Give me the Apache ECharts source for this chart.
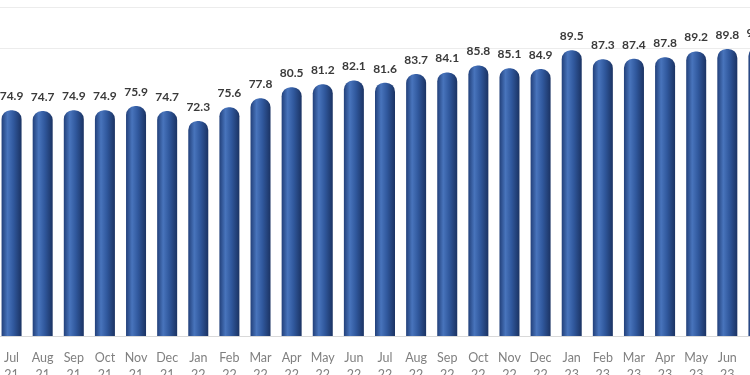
<!DOCTYPE html>
<html>
<head>
<meta charset="utf-8">
<script src="https://cdn.jsdelivr.net/npm/echarts@6/dist/echarts.min.js"></script>
<style>html,body{margin:0;padding:0;background:#fff;overflow:hidden;width:750px;height:375px;}#c{position:absolute;left:-4px;top:0;width:778px;height:375px;}</style>
</head>
<body>
<div id="c"></div>
<script>
const categories = ["Jul 21","Aug 21","Sep 21","Oct 21","Nov 21","Dec 21","Jan 22","Feb 22","Mar 22","Apr 22","May 22","Jun 22","Jul 22","Aug 22","Sep 22","Oct 22","Nov 22","Dec 22","Jan 23","Feb 23","Mar 23","Apr 23","May 23","Jun 23","Jul 23"];
const values = [74.9,74.7,74.9,74.9,75.9,74.7,72.3,75.6,77.8,80.5,81.2,82.1,81.6,83.7,84.1,85.8,85.1,84.9,89.5,87.3,87.4,87.8,89.2,89.8,90.3];
const topLines = [0,1];

const chart = echarts.init(document.getElementById('c'), null, {renderer:'canvas'});
const barColor = new echarts.graphic.LinearGradient(0,0,1,0,[
  {offset:0, color:'#22407a'},
  {offset:0.3, color:'#4874bc'},
  {offset:0.6, color:'#30589d'},
  {offset:1, color:'#1b3363'}
]);
chart.setOption({
  animation:false,
  backgroundColor:'#ffffff',
  grid:[
    {left:0, right:0, top:7, bottom:39, containLabel:false, outerBoundsMode:'none'},
    {left:0, right:0, top:7, height:41, containLabel:false, outerBoundsMode:'none'}
  ],
  xAxis:[
    {type:'category', gridIndex:0, data:categories,
     axisLine:{show:true, lineStyle:{color:'#d9d9d9'}},
     axisTick:{show:false},
     axisLabel:{interval:0, color:'#808080', fontFamily:'Lato', fontSize:12.5, margin:13, lineHeight:17,
       formatter:v=>v.replace(' ','\n')}},
    {type:'value', gridIndex:1, show:false}
  ],
  yAxis:[
    {type:'value', gridIndex:0, min:20, max:100, interval:10, show:false, splitLine:{show:false}},
    {type:'value', gridIndex:1, min:topLines[0], max:topLines[1], interval:1,
     axisLine:{show:false}, axisTick:{show:false}, axisLabel:{show:false},
     splitLine:{show:true, lineStyle:{color:'#ececec', width:1}}}
  ],
  series:[{
    type:'bar', xAxisIndex:0, yAxisIndex:0, data:values, barWidth:20,
    itemStyle:{color:barColor, borderRadius:[9,9,0,0]},
    label:{show:true, position:'top', distance:8, color:'#3a3a3a', fontFamily:'Lato', fontWeight:'bold', fontSize:12,
      formatter:p=>p.value.toFixed(1)}
  }]
});
</script>
</body>
</html>
